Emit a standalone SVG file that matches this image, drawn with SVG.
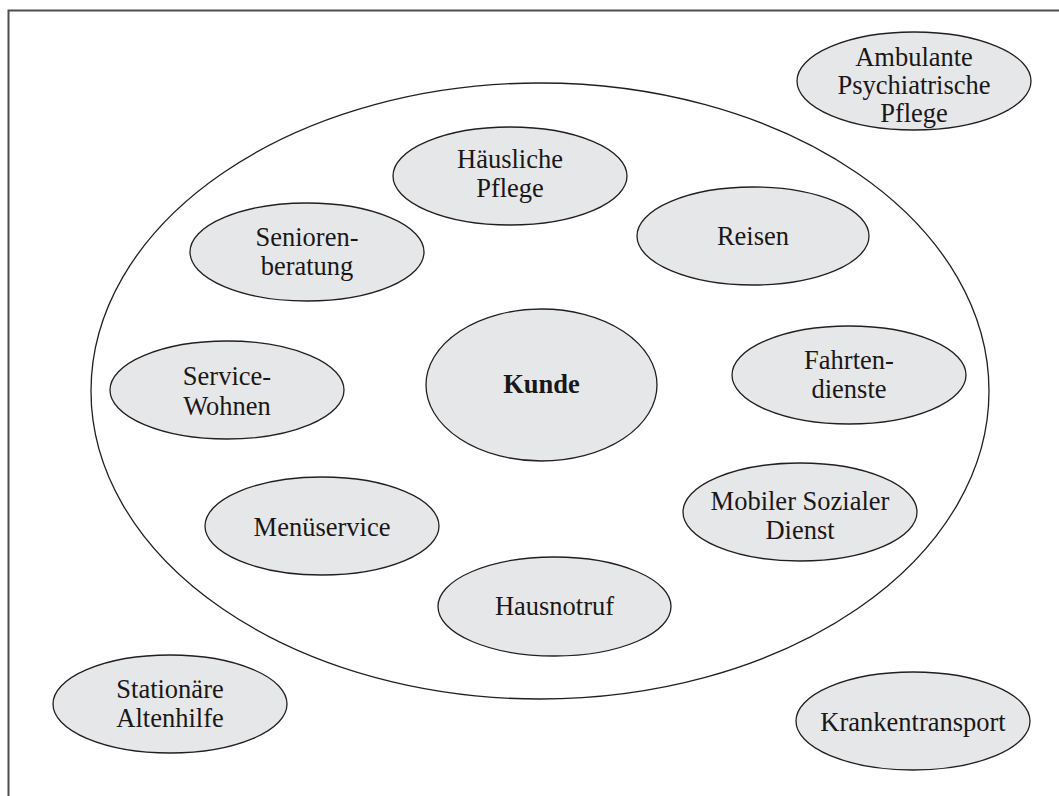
<svg xmlns="http://www.w3.org/2000/svg" width="1059" height="796" viewBox="0 0 1059 796">
<style>
.n{fill:#e6e7e8;stroke:#231f20;stroke-width:1.3}
.t{font-family:"Liberation Serif","Times New Roman",serif;font-size:26.5px;fill:#1a1718;text-anchor:middle}
.b{font-weight:bold}
</style>
<rect width="1059" height="796" fill="#fff"/>
<path d="M8.5 796 V10.5 H1059" fill="none" stroke="#4d4d4d" stroke-width="2"/>
<g id="outer"><ellipse cx="540" cy="391" rx="449" ry="308" fill="none" stroke="#231f20" stroke-width="1.3"/></g>
<g id="connectors"></g>
<g id="ambulante"><ellipse class="n" cx="914" cy="81" rx="117" ry="49"/><text class="t" x="914" y="66">Ambulante</text><text class="t" x="914" y="94">Psychiatrische</text><text class="t" x="914" y="122">Pflege</text></g>
<g id="haeusliche"><ellipse class="n" cx="510" cy="176" rx="117" ry="49"/><text class="t" x="510" y="168">Häusliche</text><text class="t" x="510" y="197">Pflege</text></g>
<g id="senioren"><ellipse class="n" cx="307" cy="252" rx="117" ry="49"/><text class="t" x="307" y="246">Senioren-</text><text class="t" x="307" y="275">beratung</text></g>
<g id="reisen"><ellipse class="n" cx="753" cy="236" rx="116" ry="49"/><text class="t" x="753" y="245">Reisen</text></g>
<g id="service"><ellipse class="n" cx="227" cy="390" rx="117" ry="49"/><text class="t" x="227" y="385">Service-</text><text class="t" x="227" y="415">Wohnen</text></g>
<g id="kunde"><ellipse class="n" cx="541.5" cy="385" rx="115.5" ry="76"/><text class="t b" x="541.5" y="393">Kunde</text></g>
<g id="fahrten"><ellipse class="n" cx="849" cy="375" rx="117" ry="49"/><text class="t" x="849" y="369">Fahrten-</text><text class="t" x="849" y="398">dienste</text></g>
<g id="menue"><ellipse class="n" cx="322" cy="526" rx="117" ry="49"/><text class="t" x="322" y="536">Menüservice</text></g>
<g id="mobiler"><ellipse class="n" cx="800" cy="512" rx="117" ry="49"/><text class="t" x="800" y="510">Mobiler Sozialer</text><text class="t" x="800" y="539">Dienst</text></g>
<g id="hausnotruf"><ellipse class="n" cx="554.5" cy="606.5" rx="116.5" ry="49.5"/><text class="t" x="554.5" y="615">Hausnotruf</text></g>
<g id="stationaere"><ellipse class="n" cx="170" cy="704" rx="117" ry="49"/><text class="t" x="170" y="698">Stationäre</text><text class="t" x="170" y="727">Altenhilfe</text></g>
<g id="kranken"><ellipse class="n" cx="913" cy="721" rx="117" ry="49"/><text class="t" x="913" y="731">Krankentransport</text></g>
</svg>
